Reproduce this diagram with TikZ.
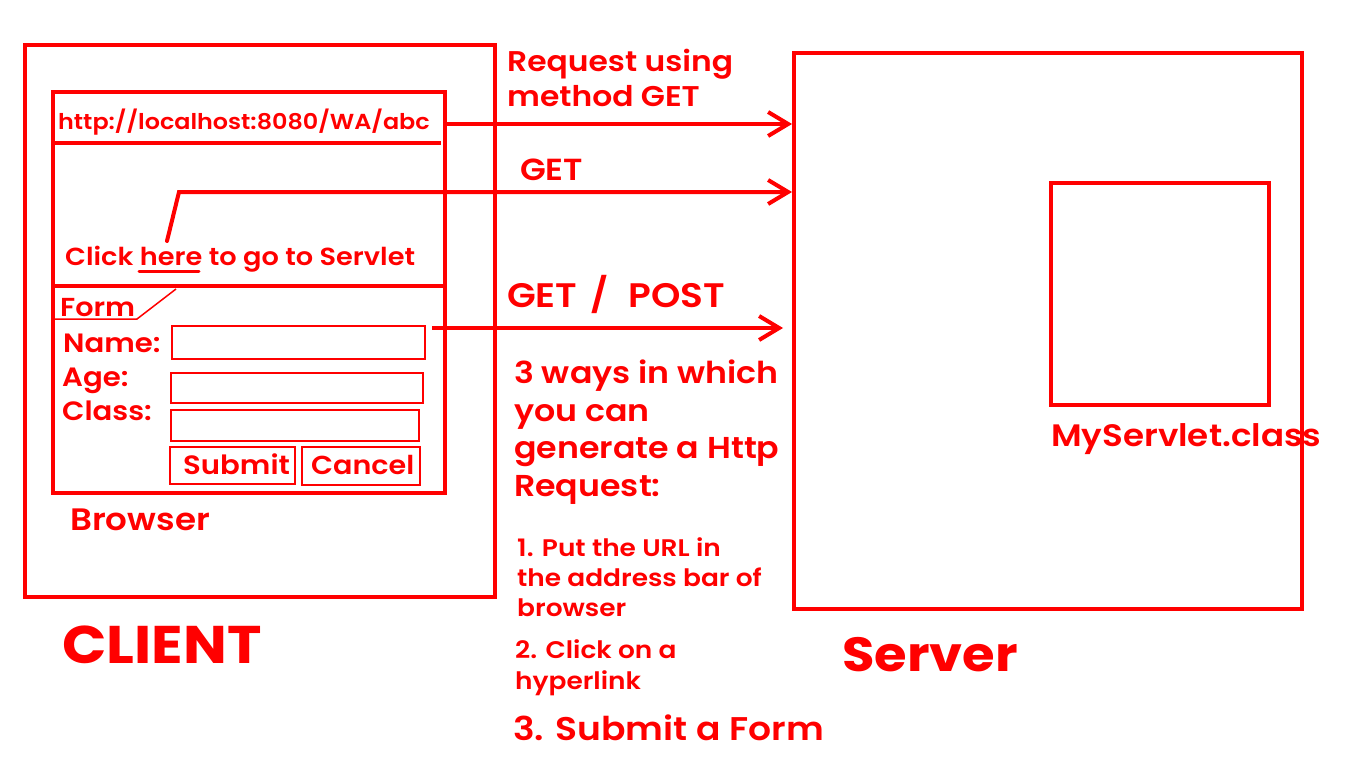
\documentclass[tikz,border=0pt]{standalone}
\usepackage{fontspec}
\setmainfont{Poppins}[FakeStretch=1.1, UprightFont=* SemiBold, BoldFont=* Bold]
\usetikzlibrary{arrows.meta}

\definecolor{ink}{RGB}{255,0,0}
\newcommand{\sz}[1]{\fontsize{#1pt}{#1pt}\selectfont}

\tikzset{
	frame/.style={draw=ink, line width=4pt},
	field/.style={draw=ink, line width=2pt},
	txt/.style={text=ink, anchor=base west, inner sep=0pt},
	arr/.style={ink, line width=4pt, -{Straight Barb[length=20pt,width=24pt]}},
}

\begin{document}
\begin{tikzpicture}[x=1pt,y=-1pt]
	\useasboundingbox (0,0) rectangle (1366,768);
	% client and browser
	\node[frame, minimum width=470pt, minimum height=552pt] (client) at (260,321) {};
	\node[frame, minimum width=392pt, minimum height=400pt] (browser) at (249,292.5) {};
	\draw[frame] (53,143) -- (441,143);
	\draw[frame] (53,286) -- (445,286);
	\node[txt, font=\sz{21.7}] (url) at (58,129) {http://localhost:8080/WA/abc};
	\node[txt, font=\sz{24.7}] (click) at (65,265) {Click here to go to Servlet};
	\draw[ink, line width=3pt, line cap=round] (139,271) -- (199,271);
	% form
	\node[txt, font=\sz{26}] (form) at (60,316) {Form};
	\draw[ink, line width=1.5pt] (53,319) -- (137,319) -- (176,289);
	\node[txt, font=\sz{26.5}] (name) at (63,352.7) {Name:};
	\node[txt, font=\sz{26.5}] (age) at (62,386.7) {Age:};
	\node[txt, font=\sz{26.5}] (class) at (62,420) {Class:};
	\node[field, minimum width=253pt, minimum height=33pt] (namebox) at (298.5,342.5) {};
	\node[field, minimum width=252pt, minimum height=30pt] (agebox) at (297,388) {};
	\node[field, minimum width=248pt, minimum height=31pt] (classbox) at (295,425) {};
	\node[field, minimum width=125pt, minimum height=37pt] (submit) at (232,465.5) {};
	\node[field, minimum width=118pt, minimum height=38pt] (cancel) at (361,466) {};
	\node[txt, font=\sz{26.5}] at (183,474.3) {Submit};
	\node[txt, font=\sz{26}] at (311,474.3) {Cancel};
	\node[txt, font=\sz{31}] (browsertxt) at (70,530.7) {Browser};
	\node[txt, font=\bfseries\sz{53}] (clienttxt) at (62,663.3) {CLIENT};
	% server
	\node[frame, minimum width=508pt, minimum height=556pt] (server) at (1048,331) {};
	\node[frame, minimum width=218pt, minimum height=222pt] (servlet) at (1160,294) {};
	\node[txt, font=\sz{31}] (servlettxt) at (1051,446) {MyServlet.class};
	\node[txt, font=\bfseries\sz{48}] (servertxt) at (842,671.7) {Server};
	% requests
	\coordinate (urlout) at (445,124);
	\coordinate (linkfoot) at (167,241);
	\coordinate (linkbend) at (179,192);
	\coordinate (formout) at (432,328);
	\draw[arr] (urlout) -- (urlout -| server.west);
	\draw[arr, line cap=round] (linkfoot) -- (linkbend) -- (linkbend -| server.west);
	\draw[arr, shorten >=9pt] (formout) -- (formout -| server.west);
	\foreach \t [count=\i from 0] in {Request using, method GET}
		\node[txt, font=\sz{28.5}] (req\i) at (507,71+35.3*\i) {\t};
	\node[txt, font=\sz{30.5}] (get) at (520,180) {GET};
	\node[txt, font=\sz{34}] (getpost) at (507,307.5) {GET\hspace{13pt}/\hspace{20pt}POST};
	% notes
	\foreach \t [count=\i from 0] in {3 ways in which, you can, generate a Http, Request:}
		\node[txt, font=\sz{30.2}] (ways\i) at (514,383.3+37.8*\i) {\t};
	\foreach \t [count=\i from 0] in {1. Put the URL in, the address bar of, browser}
		\node[txt, font=\sz{24}] (one\i) at (517,556+30*\i) {\t};
	\foreach \t [count=\i from 0] in {2. Click on a, hyperlink}
		\node[txt, font=\sz{24}] (two\i) at (515,658.7+30.6*\i) {\t};
	\node[txt, font=\sz{32.8}] (three) at (513,740) {3. Submit a Form};
\end{tikzpicture}
\end{document}
